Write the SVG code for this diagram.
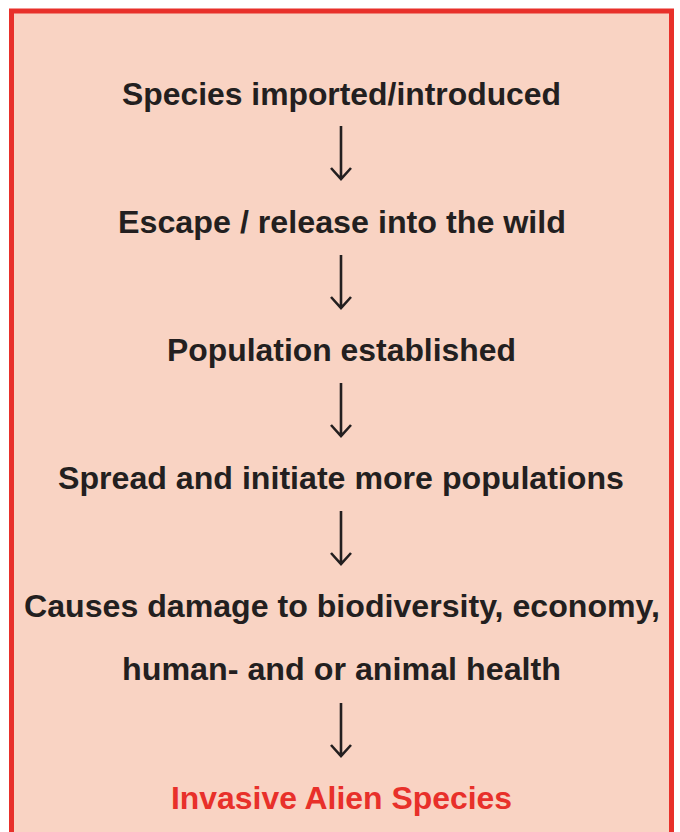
<svg xmlns="http://www.w3.org/2000/svg" width="680" height="832" viewBox="0 0 680 832">
<defs>
<style>
.t{font-family:"Liberation Sans",Arial,sans-serif;font-weight:bold;font-size:30.5px;fill:#231F20;text-anchor:middle}
.r{fill:#E8302A}
.c{stroke:#231F20;stroke-width:2.6;fill:none;stroke-linecap:butt;stroke-linejoin:miter}
</style>
</defs>
<rect x="0" y="0" width="680" height="832" fill="#fff"/>
<rect x="11.5" y="11" width="660" height="840" fill="#F9D3C3" stroke="#E8302A" stroke-width="5"/>
<g id="n1"><text class="t" x="341.5" y="105" textLength="439" lengthAdjust="spacingAndGlyphs">Species imported/introduced</text></g>
<g id="n2"><text class="t" x="342" y="233" textLength="448" lengthAdjust="spacingAndGlyphs">Escape / release into the wild</text></g>
<g id="n3"><text class="t" x="341.5" y="361" textLength="349" lengthAdjust="spacingAndGlyphs">Population established</text></g>
<g id="n4"><text class="t" x="341" y="489" textLength="566" lengthAdjust="spacingAndGlyphs">Spread and initiate more populations</text></g>
<g id="n5"><text class="t" x="342" y="617" textLength="636" lengthAdjust="spacingAndGlyphs">Causes damage to biodiversity, economy,</text><text class="t" x="341.5" y="680" textLength="439" lengthAdjust="spacingAndGlyphs">human- and or animal health</text></g>
<g id="n6"><text class="t r" x="341.5" y="809" textLength="341" lengthAdjust="spacingAndGlyphs">Invasive Alien Species</text></g>
<g id="connectors">
<path class="c" d="M341 126V179M331 168L341 179L351 168"/>
<path class="c" d="M341 255V308M331 297L341 308L351 297"/>
<path class="c" d="M341 383V436M331 425L341 436L351 425"/>
<path class="c" d="M341 511V564M331 553L341 564L351 553"/>
<path class="c" d="M341 703V756M331 745L341 756L351 745"/>
</g>
</svg>
